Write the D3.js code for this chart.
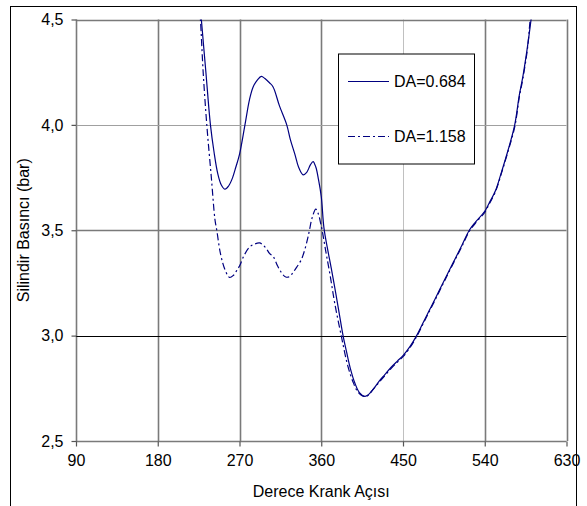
<!DOCTYPE html>
<html lang="tr">
<head>
  <meta charset="UTF-8">
  <title>Silindir Basıncı - Derece Krank Açısı</title>
  <script src="https://d3js.org/d3.v7.min.js"></script>
  <style>
    body {
      margin: 0;
      background: #fff;
    }
    text {
      font-family: 'Liberation Sans', Arial, sans-serif;
      font-size: 16px;
      fill: #000;
    }
  </style>
</head>
<body>
<svg width="587" height="506"></svg>

<script>
const width = 587, height = 506;
const margin = { top: 19.5, right: 20, bottom: 65, left: 76 };

// crank angle (deg) / cylinder pressure (bar)
const angleA = [226, 228, 233, 238, 242, 246, 250, 254, 258, 262, 266, 270, 276, 281, 285, 290, 294, 298, 303, 307, 314, 322, 326, 331, 335, 340, 344, 348, 351, 354, 357, 360, 363, 367, 371, 376, 380, 384, 388, 392, 397, 402, 408, 412, 418, 424, 430, 437, 444, 450, 458, 465, 472, 479, 486, 494, 501, 508, 515, 523, 530, 540, 545, 552, 558, 565, 573, 578, 582, 587, 591, 594];
const pressA = [4.62, 4.50, 4.25, 4.00, 3.87, 3.77, 3.715, 3.695, 3.71, 3.745, 3.80, 3.86, 4.00, 4.12, 4.18, 4.215, 4.23, 4.22, 4.20, 4.18, 4.09, 4.00, 3.93, 3.86, 3.80, 3.763, 3.775, 3.81, 3.826, 3.80, 3.74, 3.66, 3.51, 3.41, 3.32, 3.20, 3.10, 3.00, 2.92, 2.845, 2.775, 2.73, 2.712, 2.72, 2.75, 2.785, 2.815, 2.85, 2.88, 2.905, 2.95, 3.00, 3.06, 3.12, 3.18, 3.25, 3.31, 3.37, 3.43, 3.50, 3.54, 3.59, 3.63, 3.69, 3.77, 3.87, 4.00, 4.14, 4.23, 4.37, 4.50, 4.60];

const angleB = [225, 227, 230, 234, 239, 243, 245, 249, 254, 259, 263, 267, 270, 275, 281, 287, 292, 296, 300, 303, 307, 312, 316, 321, 325, 329, 333, 338, 342, 345, 347, 350, 354, 357, 359, 361, 365, 370, 375, 382, 389, 395, 400, 405, 410, 418, 424, 430, 437, 444, 450, 458, 465, 472, 479, 486, 494, 501, 508, 515, 523, 530, 540, 545, 552, 558, 565, 573, 578, 582, 587, 590, 593];
const pressB = [4.62, 4.50, 4.25, 4.00, 3.75, 3.55, 3.50, 3.39, 3.313, 3.276, 3.285, 3.31, 3.33, 3.38, 3.42, 3.435, 3.44, 3.43, 3.41, 3.39, 3.376, 3.33, 3.30, 3.278, 3.28, 3.30, 3.325, 3.36, 3.41, 3.46, 3.50, 3.56, 3.60, 3.575, 3.54, 3.50, 3.40, 3.28, 3.15, 3.00, 2.86, 2.78, 2.735, 2.715, 2.712, 2.75, 2.78, 2.81, 2.845, 2.875, 2.90, 2.945, 2.995, 3.055, 3.115, 3.175, 3.245, 3.305, 3.365, 3.425, 3.495, 3.535, 3.585, 3.625, 3.685, 3.765, 3.865, 3.99, 4.13, 4.22, 4.36, 4.50, 4.62];

const seriesNames = ["DA=0.684", "DA=1.158"];
const xTicks = [90, 180, 270, 360, 450, 540, 630];
const yTicks = [2.5, 3.0, 3.5, 4.0, 4.5];

const svg = d3.select("svg");

// outer chart frame (bottom edge falls outside the picture)
svg.append("rect")
  .attr("x", 10.5).attr("y", 6.5)
  .attr("width", 566).attr("height", 520)
  .attr("fill", "none")
  .attr("stroke", "#000")
  .attr("stroke-width", 1);

const x = d3.scaleLinear()
  .domain([90, 630])
  .range([margin.left, width - margin.right - 0.5]);

const y = d3.scaleLinear()
  .domain([2.5, 4.5])
  .range([height - margin.bottom, margin.top]);

const fmt = d => d.toFixed(1).replace(".", ",");

// grid: light lines at 450 and 4,0, black line at 3,0, the rest dark gray
const gridV = svg.append("g");
xTicks.forEach(t => {
  gridV.append("line")
    .attr("x1", Math.round(x(t)) + 0.5).attr("x2", Math.round(x(t)) + 0.5)
    .attr("y1", y(4.5)).attr("y2", y(2.5))
    .attr("stroke", t === 450 ? "#c0c0c0" : "#7a7a7a")
    .attr("stroke-width", t === 450 ? 1 : 1.6);
});

const gridH = svg.append("g");
yTicks.forEach(t => {
  const light = t === 4.0, black = t === 3.0;
  gridH.append("line")
    .attr("x1", x(90)).attr("x2", x(630))
    .attr("y1", Math.round(y(t)) + 0.5).attr("y2", Math.round(y(t)) + 0.5)
    .attr("stroke", light ? "#a0a0a0" : black ? "#000" : "#7a7a7a")
    .attr("stroke-width", light || black ? 1 : 1.6);
});

// axes
const xAxis = d3.axisBottom(x)
  .tickValues(xTicks)
  .tickSize(5)
  .tickPadding(8)
  .tickFormat(d3.format("d"));

svg.append("g")
  .attr("transform", `translate(0, ${Math.round(y(2.5)) + 0.5})`)
  .call(xAxis)
  .call(g => g.select(".domain").remove())
  .call(g => g.selectAll("line").attr("stroke", "#555").attr("stroke-width", 1.2))
  .call(g => g.selectAll("text").style("font-size", "16px").style("font-family", "'Liberation Sans', Arial, sans-serif").attr("fill", "#000"));

const yAxis = d3.axisLeft(y)
  .tickValues(yTicks)
  .tickSize(5)
  .tickPadding(8)
  .tickFormat(fmt);

svg.append("g")
  .attr("transform", `translate(${Math.round(x(90)) + 0.5}, 0)`)
  .call(yAxis)
  .call(g => g.select(".domain").remove())
  .call(g => g.selectAll("line").attr("stroke", "#555").attr("stroke-width", 1.2))
  .call(g => g.selectAll("text").style("font-size", "16px").style("font-family", "'Liberation Sans', Arial, sans-serif").attr("fill", "#000"));

// axis titles
svg.append("text")
  .attr("x", (x(90) + x(630)) / 2)
  .attr("y", 497)
  .attr("text-anchor", "middle")
  .text("Derece Krank Açısı");

svg.append("text")
  .attr("transform", `translate(29, ${(y(2.5) + y(4.5)) / 2}) rotate(-90)`)
  .attr("text-anchor", "middle")
  .text("Silindir Basıncı (bar)");

// curves, clipped to the plot area
svg.append("clipPath").attr("id", "plotClip")
  .append("rect")
  .attr("x", x(90)).attr("y", y(4.5))
  .attr("width", x(630) - x(90)).attr("height", y(2.5) - y(4.5));

const line = d3.line()
  .x(d => x(d[0]))
  .y(d => y(d[1]))
  .curve(d3.curveCatmullRom.alpha(0.5));

const seriesB = angleB.map((a, i) => [a, pressB[i]]);
const seriesA = angleA.map((a, i) => [a, pressA[i]]);

const curves = svg.append("g").attr("clip-path", "url(#plotClip)");

curves.append("path")
  .datum(seriesB)
  .attr("d", line)
  .attr("fill", "none")
  .attr("stroke", "#000080")
  .attr("stroke-width", 1.2)
  .attr("stroke-dasharray", "7,3,2,3");

curves.append("path")
  .datum(seriesA)
  .attr("d", line)
  .attr("fill", "none")
  .attr("stroke", "#000080")
  .attr("stroke-width", 1.2);

// legend
const legend = svg.append("g").attr("transform", "translate(338, 53.5)");

legend.append("rect")
  .attr("x", 0.5).attr("y", 0.5)
  .attr("width", 136).attr("height", 110)
  .attr("fill", "#fff")
  .attr("stroke", "#000")
  .attr("stroke-width", 1);

seriesNames.forEach((name, i) => {
  const ly = 28 + i * 55;
  legend.append("line")
    .attr("x1", 10).attr("x2", 51)
    .attr("y1", ly).attr("y2", ly)
    .attr("stroke", "#000080")
    .attr("stroke-width", 1.2)
    .attr("stroke-dasharray", i === 1 ? "7,3,2,3" : null);
  legend.append("text")
    .attr("x", 56)
    .attr("y", ly)
    .attr("dy", "0.35em")
    .text(name);
});
</script>
</body>
</html>
